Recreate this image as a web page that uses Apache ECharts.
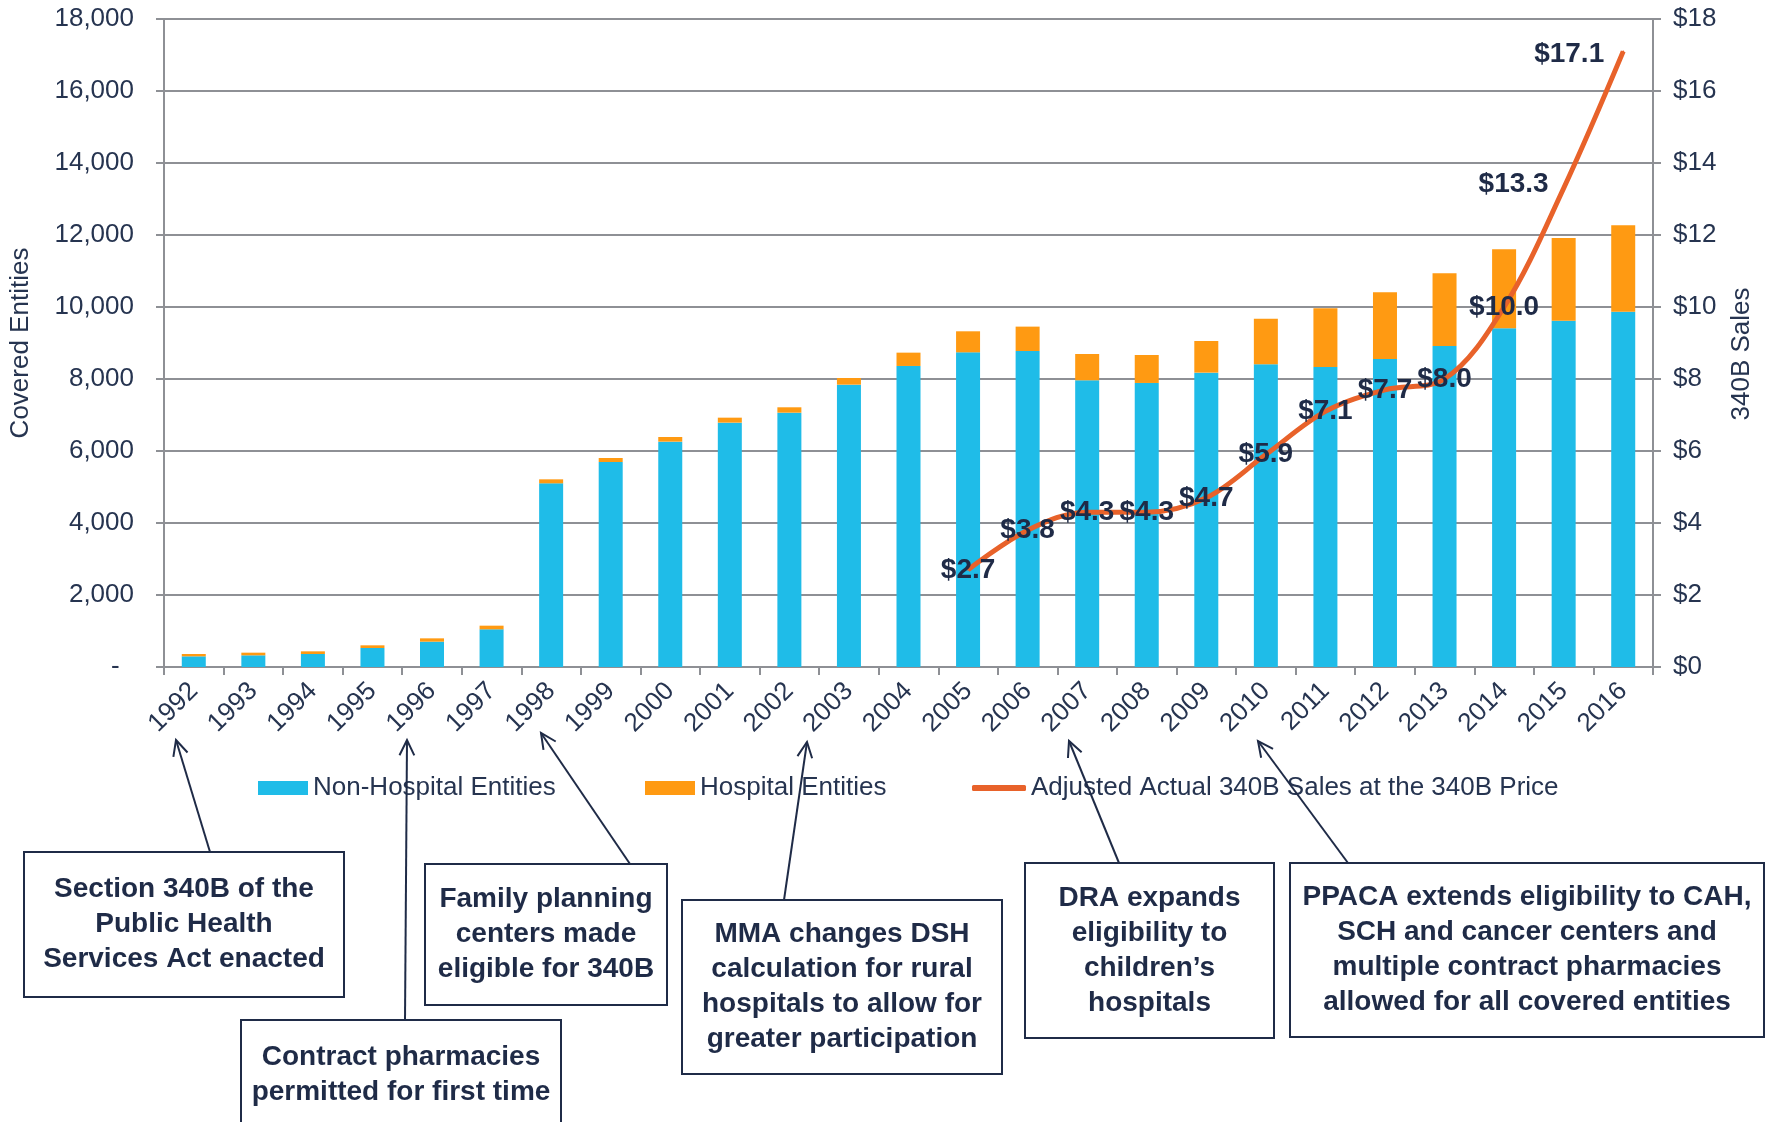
<!DOCTYPE html>
<html>
<head>
<meta charset="utf-8">
<script src="https://cdn.jsdelivr.net/npm/echarts@6/dist/echarts.min.js"></script>
<style>
  html, body { margin: 0; padding: 0; background: #fff; }
  #main { width: 1769px; height: 1122px; }
</style>
</head>
<body>
<div id="main"></div>
<script>
const years = ['1992', '1993', '1994', '1995', '1996', '1997', '1998', '1999', '2000', '2001', '2002', '2003', '2004',
  '2005', '2006', '2007', '2008', '2009', '2010', '2011', '2012', '2013', '2014', '2015', '2016']
const nonHospital = [296, 324, 361, 528, 704, 1046, 5102, 5695, 6260, 6788, 7065, 7843, 8362,
  8741, 8778, 7964, 7890, 8177, 8408, 8334, 8556, 8917, 9408, 9621, 9871]
const hospital = [65, 74, 74, 74, 92, 102, 111, 111, 129, 138, 149, 185, 370,
  584, 677, 731, 777, 879, 1269, 1630, 1852, 2019, 2194, 2296, 2398]
// $ billions, only from 2005 on
const sales = [null, null, null, null, null, null, null, null, null, null, null, null, null,
  2.7, 3.8, 4.3, 4.3, 4.7, 5.9, 7.1, 7.7, 8.0, 10.0, 13.3, 17.1]

const FONT = "'Liberation Sans', Arial, sans-serif"
const NAVY = '#1f2b47'
const TEXT = '#263450'
const GRID = '#8e9095'
const BLUE = '#1fbce8'
const ORANGE = '#ff9a12'
const RED = '#e8622a'

// annotation boxes: [x, y, w, h, text]
const notes = [
  [24, 852, 320, 145, 'Section 340B of the\nPublic Health\nServices Act enacted'],
  [241, 1020, 320, 110, 'Contract pharmacies\npermitted for first time'],
  [425, 864, 242, 141, 'Family planning\ncenters made\neligible for 340B'],
  [682, 900, 320, 174, 'MMA changes DSH\ncalculation for rural\nhospitals to allow for\ngreater participation'],
  [1025, 863, 249, 175, 'DRA expands\neligibility to\nchildren\u2019s\nhospitals'],
  [1290, 863, 474, 174, 'PPACA extends eligibility to CAH,\nSCH and cancer centers and\nmultiple contract pharmacies\nallowed for all covered entities']
]
// arrows: from box top to tip near the year labels
const arrows = [
  [210, 852, 176, 740],
  [405, 1020, 407, 740],
  [630, 864, 541, 733],
  [784, 900, 807, 742],
  [1119, 863, 1069, 741],
  [1348, 863, 1258, 741]
]

function arrowGraphic(a) {
  const [x1, y1, x2, y2] = a
  const t = Math.atan2(y2 - y1, x2 - x1)
  const L = 17, s = 0.45
  return [
    { type: 'line', shape: { x1, y1, x2, y2 }, style: { stroke: NAVY, lineWidth: 2 }, z: 50 },
    {
      type: 'polyline', z: 50,
      shape: { points: [
        [x2 - L * Math.cos(t - s), y2 - L * Math.sin(t - s)],
        [x2, y2],
        [x2 - L * Math.cos(t + s), y2 - L * Math.sin(t + s)]
      ] },
      style: { stroke: NAVY, lineWidth: 2, fill: null }
    }
  ]
}

const graphics = []
notes.forEach(n => {
  graphics.push({
    type: 'rect', z: 40,
    shape: { x: n[0], y: n[1], width: n[2], height: n[3] },
    style: { fill: '#fff', stroke: NAVY, lineWidth: 2 }
  })
  graphics.push({
    type: 'text', z: 41,
    x: n[0] + n[2] / 2, y: n[1] + n[3] / 2,
    style: {
      text: n[4], fill: NAVY, fontSize: 28, fontWeight: 'bold', fontFamily: FONT,
      textAlign: 'center', textVerticalAlign: 'middle', lineHeight: 35
    }
  })
})
arrows.forEach(a => graphics.push(...arrowGraphic(a)))

const salesData = sales.map((v, i) => {
  if (i === 23) return { value: v, label: { position: 'left', distance: 14, offset: [0, -4] } }
  if (i === 24) return { value: v, label: { position: 'left', distance: 18, offset: [0, 3] } }
  return v
})

const legendText = { fontSize: 26, color: TEXT, fontFamily: FONT }

const option = {
  animation: false,
  backgroundColor: '#fff',
  grid: { left: 163, right: 116, top: 19, bottom: 455 },
  legend: [
    { left: 258, top: 775, padding: 0, itemWidth: 50, itemHeight: 14, textStyle: legendText,
      data: [{ name: 'Non-Hospital Entities', icon: 'rect' }] },
    { left: 645, top: 775, padding: 0, itemWidth: 50, itemHeight: 14, textStyle: legendText,
      data: [{ name: 'Hospital Entities', icon: 'rect' }] },
    { left: 972, top: 775, padding: 0, itemWidth: 54, itemHeight: 6, textStyle: legendText,
      data: [{ name: 'Adjusted Actual 340B Sales at the 340B Price', icon: 'roundRect' }] }
  ],
  xAxis: {
    type: 'category',
    data: years,
    axisLine: { lineStyle: { color: GRID, width: 2 } },
    axisTick: { show: true, length: 8, lineStyle: { color: GRID, width: 2 } },
    axisLabel: { rotate: 45, margin: 20, fontSize: 26, color: TEXT, fontFamily: FONT, interval: 0 }
  },
  yAxis: [
    {
      type: 'value', min: 0, max: 18000, interval: 2000,
      name: 'Covered Entities', nameLocation: 'middle', nameGap: 130, nameRotate: 90,
      nameTextStyle: { fontSize: 26, color: TEXT, fontFamily: FONT },
      axisLine: { show: true, lineStyle: { color: GRID, width: 2 } },
      axisTick: { show: true, length: 8, lineStyle: { color: GRID, width: 2 } },
      splitLine: { lineStyle: { color: GRID, width: 2 } },
      axisLabel: {
        margin: 30, fontSize: 26, color: TEXT, fontFamily: FONT,
        formatter: v => v === 0 ? '-  ' : v.toLocaleString('en-US')
      }
    },
    {
      type: 'value', min: 0, max: 18, interval: 2, position: 'right',
      name: '340B Sales', nameLocation: 'middle', nameGap: 76, nameRotate: 90,
      nameTextStyle: { fontSize: 26, color: TEXT, fontFamily: FONT, padding: [0, 22, 0, 0] },
      axisLine: { show: true, lineStyle: { color: GRID, width: 2 } },
      axisTick: { show: true, length: 8, lineStyle: { color: GRID, width: 2 } },
      splitLine: { show: false },
      axisLabel: { margin: 20, fontSize: 26, color: TEXT, fontFamily: FONT, formatter: v => '$' + v }
    }
  ],
  series: [
    {
      name: 'Non-Hospital Entities', type: 'bar', stack: 'ce', barWidth: 24,
      itemStyle: { color: BLUE }, data: nonHospital
    },
    {
      name: 'Hospital Entities', type: 'bar', stack: 'ce', barWidth: 24,
      itemStyle: { color: ORANGE }, data: hospital
    },
    {
      name: 'Adjusted Actual 340B Sales at the 340B Price', type: 'line', yAxisIndex: 1,
      smooth: 0.35, symbol: 'circle', symbolSize: 2, showSymbol: true,
      itemStyle: { color: RED }, lineStyle: { color: RED, width: 5 },
      label: {
        show: true, position: 'inside', color: NAVY, fontWeight: 'bold', fontSize: 28, fontFamily: FONT,
        formatter: p => '$' + Number(p.value).toFixed(1)
      },
      data: salesData, z: 5
    }
  ],
  graphic: graphics
}

const chart = echarts.init(document.getElementById('main'))
chart.setOption(option)
</script>
</body>
</html>
